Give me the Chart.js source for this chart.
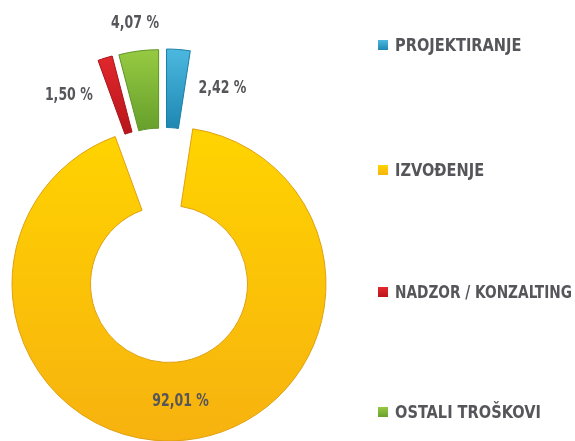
<!DOCTYPE html>
<html>
<head>
<meta charset="utf-8">
<script src="https://cdn.jsdelivr.net/npm/chart.js@4/dist/chart.umd.min.js"></script>
<style>
  html, body { margin: 0; padding: 0; background: #ffffff; }
  #wrap { position: relative; width: 575px; height: 441px; }
</style>
</head>
<body>
<div id="wrap"><canvas id="c" width="575" height="441"></canvas></div>
<script>
// ---- data ----
const categories = ['PROJEKTIRANJE', 'IZVOĐENJE', 'NADZOR / KONZALTING', 'OSTALI TROŠKOVI'];
const shares = [2.42, 92.01, 1.50, 4.07];

// ---- style ----
const colorTop    = ['#4cb8df', '#ffd400', '#e4292f', '#97ca42'];
const colorBottom = ['#1e88b2', '#f7b20f', '#b9161c', '#67a12c'];
const borderCols  = ['#1b7ea6', '#dfa010', '#a8141a', '#5e9428'];
const explodePx   = [78, 0, 78, 78];   // pull-out distance of each slice
const explodeSpread = 0.5;              // pull-out direction = mid angle * spread + tilt
const explodeTilt = -4 * Math.PI / 180;
const labelPlacement = ['right', 'inside', 'left', 'above'];
const legendRowY = [45, 170, 292, 412];
const FONT = '"Liberation Sans Narrow", "DejaVu Sans Condensed", "Roboto Condensed", sans-serif';
const TEXT_COLOR = '#56565a';

function fmt(v) { return v.toFixed(2).replace('.', ',') + ' %'; }

function gradFor(c, i, y0, y1) {
  const g = c.createLinearGradient(0, y0, 0, y1);
  g.addColorStop(0, colorTop[i]);
  g.addColorStop(1, colorBottom[i]);
  return g;
}

// translation of an exploded arc (canvas angles: 0 = right, -PI/2 = top)
function explodeVec(arc, i) {
  const d = explodePx[i];
  if (!d) return { dx: 0, dy: 0 };
  let m = (arc.startAngle + arc.endAngle) / 2 + Math.PI / 2; // 0 = top, clockwise
  m = Math.atan2(Math.sin(m), Math.cos(m));
  const dir = m * explodeSpread + explodeTilt;
  return { dx: Math.sin(dir) * d, dy: -Math.cos(dir) * d };
}

function drawScaledText(c, txt, x, y, align, sx) {
  const w = c.measureText(txt).width * sx;
  let left = x;
  if (align === 'center') left = x - w / 2;
  else if (align === 'right') left = x - w;
  c.save();
  c.translate(left, y);
  c.scale(sx, 1);
  c.textAlign = 'left';
  c.fillText(txt, 0, 0);
  c.restore();
}

const explodePlugin = {
  id: 'explode',
  beforeDatasetDraw(chart, args) {
    const c = chart.ctx;
    const meta = args.meta;
    meta.data.forEach((arc, i) => {
      const v = explodeVec(arc, i);
      c.save();
      c.translate(v.dx, v.dy);
      arc.draw(c);
      c.restore();
    });
    return false;
  }
};

const labelPlugin = {
  id: 'pctLabels',
  afterDatasetsDraw(chart) {
    const c = chart.ctx;
    const meta = chart.getDatasetMeta(0);
    c.save();
    c.font = 'bold 17px ' + FONT;
    c.fillStyle = TEXT_COLOR;
    c.textBaseline = 'middle';
    meta.data.forEach((arc, i) => {
      const p = arc.getProps(['x', 'y', 'startAngle', 'endAngle', 'innerRadius', 'outerRadius'], true);
      const v = explodeVec(p, i);
      const mid = (p.startAngle + p.endAngle) / 2;
      const ringMid = (p.innerRadius + p.outerRadius) / 2;
      const txt = fmt(shares[i]);
      const mode = labelPlacement[i];
      let r, dx = 0, align = 'center';
      if (mode === 'above') { r = p.outerRadius + 28; }
      else if (mode === 'right') { r = ringMid; dx = 23; align = 'left'; }
      else if (mode === 'left') { r = ringMid; dx = -24; align = 'right'; }
      else { r = ringMid; }
      const x = p.x + v.dx + Math.cos(mid) * r + dx;
      const y = p.y + v.dy + Math.sin(mid) * r;
      drawScaledText(c, txt, x, y, align, 0.82);
    });
    c.restore();
  }
};

const legendPlugin = {
  id: 'sideLegend',
  afterDraw(chart) {
    const c = chart.ctx;
    const boxX = 378, box = 10;
    c.save();
    c.font = 'bold 18px ' + FONT;
    c.textBaseline = 'middle';
    categories.forEach((name, i) => {
      const y = legendRowY[i];
      c.fillStyle = gradFor(c, i, y - box / 2, y + box / 2);
      c.fillRect(boxX, y - box / 2, box, box);
      c.fillStyle = TEXT_COLOR;
      const tx = boxX + box + 7;
      const maxW = chart.width - tx - 3;
      const sx = Math.min(0.9, maxW / c.measureText(name).width);
      drawScaledText(c, name, tx, y + 1, 'left', sx);
    });
    c.restore();
  }
};

new Chart(document.getElementById('c'), {
  type: 'doughnut',
  data: {
    labels: categories,
    datasets: [{
      data: shares,
      borderWidth: 1,
      borderColor: borderCols,
      backgroundColor: (ctx) => {
        const i = ctx.dataIndex;
        if (i === undefined) return colorTop[0];
        const c = ctx.chart.ctx;
        return i === 1 ? gradFor(c, i, 127, 441) : gradFor(c, i, 127, 206);
      }
    }]
  },
  options: {
    responsive: false,
    animation: false,
    rotation: 0,
    radius: 157,
    cutout: '50%',
    layout: { padding: { left: 0, right: 237, top: 127, bottom: 0 } },
    plugins: {
      legend: { display: false },
      tooltip: { enabled: false }
    }
  },
  plugins: [explodePlugin, labelPlugin, legendPlugin]
});
</script>
</body>
</html>
